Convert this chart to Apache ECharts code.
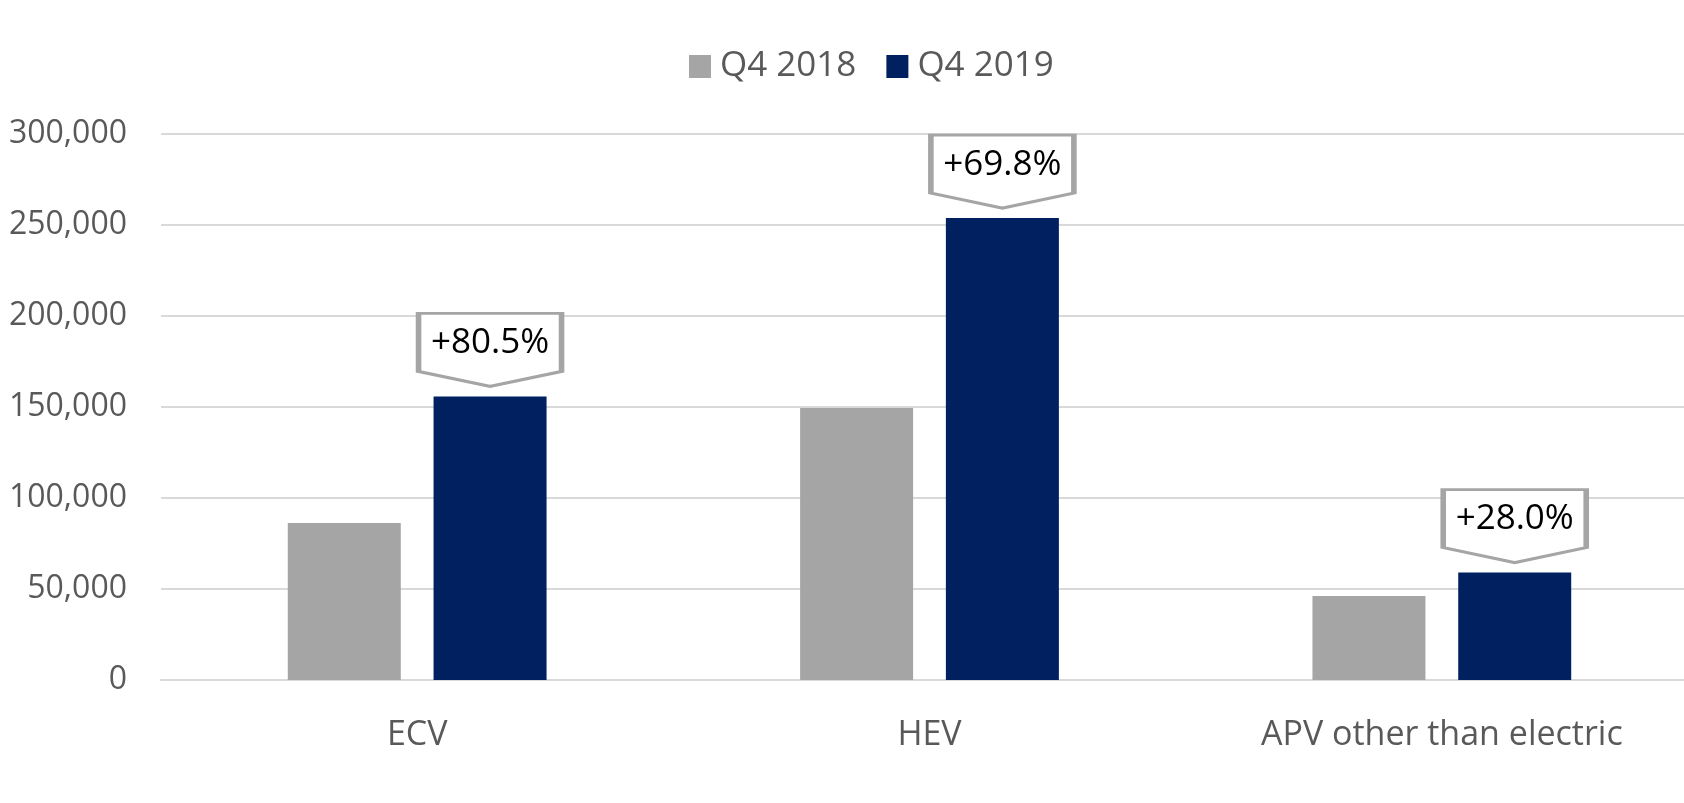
<!DOCTYPE html>
<html>
<head>
<meta charset="utf-8">
<title>Q4 2018 vs Q4 2019</title>
<script src="https://cdn.jsdelivr.net/npm/echarts@6/dist/echarts.min.js"></script>
<style>
  html, body { margin: 0; padding: 0; background: #fff; }
  #chart { width: 1684px; height: 803px; }
</style>
</head>
<body>
<div id="chart"></div>
<script>
// chart data
var categories = ['ECV', 'HEV', 'APV other than electric']
var seriesNames = ['Q4 2018', 'Q4 2019']
var q42018 = [86300, 149500, 46100]
var q42019 = [155800, 253800, 59000]
var growth = ['+80.5%', '+69.8%', '+28.0%']
var yTicks = [0, 50000, 100000, 150000, 200000, 250000, 300000]

var font = '"Open Sans", "Noto Sans", sans-serif'
var gray = '#A5A5A5'
var navy = '#002060'

var chart = echarts.init(document.getElementById('chart'))

chart.setOption({
  animation: false,
  textStyle: { fontFamily: font },
  legend: {
    data: seriesNames,
    left: 684,
    top: 44,
    icon: 'rect',
    itemWidth: 22,
    itemHeight: 23,
    itemGap: 30,
    textStyle: {
      fontSize: 35,
      color: '#595959',
      fontFamily: font,
      padding: [0, 0, 0, 4]
    }
  },
  grid: {
    left: 161,
    top: 134,
    right: -14,
    bottom: 123,
    outerBoundsMode: 'none',
    containLabel: false
  },
  xAxis: {
    type: 'category',
    data: categories,
    axisLine: { show: true, lineStyle: { color: '#D9D9D9', width: 2 } },
    axisTick: { show: false },
    axisLabel: {
      fontSize: 34,
      color: '#595959',
      margin: 38,
      fontFamily: font
    }
  },
  yAxis: {
    type: 'value',
    min: yTicks[0],
    max: yTicks[yTicks.length - 1],
    interval: yTicks[1] - yTicks[0],
    axisLine: { show: false },
    axisTick: { show: false },
    splitLine: { lineStyle: { color: '#D9D9D9', width: 2 } },
    axisLabel: {
      fontSize: 32,
      color: '#595959',
      margin: 34,
      fontFamily: font,
      formatter: function(value) {
        return value.toLocaleString('en-US')
      }
    }
  },
  series: [
    {
      name: seriesNames[0],
      type: 'bar',
      barWidth: 113,
      barGap: '29%',
      itemStyle: { color: gray },
      data: q42018
    },
    {
      name: seriesNames[1],
      type: 'bar',
      barWidth: 113,
      barGap: '29%',
      itemStyle: { color: navy },
      data: q42019,
      markPoint: {
        symbol: 'path://M0,0 L143,0 L143,58 L71.5,73 L0,58 Z',
        symbolSize: [143, 73],
        symbolOffset: [0, -46.5],
        itemStyle: {
          color: '#fff',
          borderColor: gray,
          borderWidth: 4
        },
        label: {
          show: true,
          position: 'inside',
          offset: [0, -7],
          color: '#000',
          fontSize: 35,
          fontFamily: font,
          formatter: function(p) {
            return p.name
          }
        },
        data: categories.map(function(c, i) {
          return { name: growth[i], coord: [c, q42019[i]] }
        })
      }
    }
  ]
})
</script>
</body>
</html>
